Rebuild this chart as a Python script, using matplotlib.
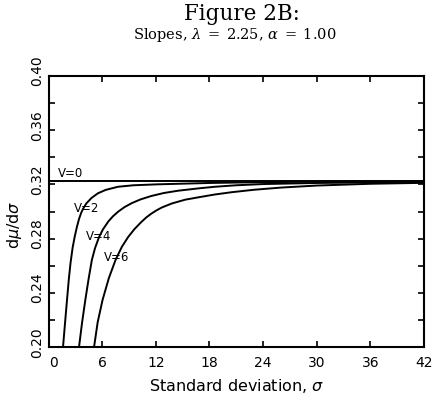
import matplotlib.pyplot as plt
import matplotlib.transforms as mtransforms
from matplotlib.ticker import MultipleLocator

# slope curves read as (sigma, dmu/dsigma) pairs
sigma_v0 = [0.0, 42.0]
slope_v0 = [0.3228, 0.3228]

sigma_v2 = [1.62, 1.85, 2.07, 2.27, 2.46, 2.70, 2.93, 3.17, 3.41, 3.65, 3.86, 4.23, 4.80,
            5.53, 6.40, 7.77, 9.50, 12.2, 18.0, 24.0, 30.0, 42.0]
slope_v2 = [0.200, 0.218, 0.235, 0.250, 0.262, 0.2735, 0.2815, 0.2885, 0.2945, 0.2990,
            0.3020, 0.3060, 0.3100, 0.3135, 0.3160, 0.3183, 0.3194, 0.3201, 0.3211, 0.3217,
            0.3220, 0.3223]

sigma_v4 = [3.41, 3.75, 4.12, 4.50, 4.85, 5.20, 5.65, 6.10, 6.69, 7.20, 7.80, 8.50, 9.30,
            10.3, 11.5, 12.9, 14.5, 16.9, 18.6, 21.0, 24.0, 30.0, 36.0, 42.0]
slope_v4 = [0.200, 0.218, 0.235, 0.251, 0.2644, 0.2730, 0.2812, 0.2870, 0.2927, 0.2965,
            0.3000, 0.3033, 0.3062, 0.3090, 0.3115, 0.3137, 0.3154, 0.3172, 0.3183, 0.3194,
            0.3203, 0.3211, 0.3215, 0.3218]

sigma_v6 = [5.09, 5.50, 6.05, 6.75, 7.50, 8.20, 8.90, 9.60, 10.3, 10.9, 11.5, 12.1, 12.7,
            13.8, 15.3, 17.0, 18.6, 20.5, 23.0, 26.0, 30.0, 36.0, 42.0]
slope_v6 = [0.200, 0.2185, 0.235, 0.251, 0.2644, 0.2740, 0.2812, 0.2870, 0.2918, 0.2955,
            0.2985, 0.3010, 0.3031, 0.3060, 0.3088, 0.3108, 0.3126, 0.3143, 0.3161, 0.3177,
            0.3192, 0.3205, 0.3212]

curve_labels = ['V=0', 'V=2', 'V=4', 'V=6']
label_pos = [(1.1, 0.3278), (4.3, 0.3025), (5.65, 0.2817), (7.6, 0.266)]

x_ticks = [0, 6, 12, 18, 24, 30, 36, 42]
y_ticks = [0.20, 0.24, 0.28, 0.32, 0.36, 0.40]

fig = plt.figure(figsize=(4.39, 3.97), dpi=100)
ax = fig.add_axes([0.1105, 0.1252, 0.8553, 0.6836])

for xs, ys in [(sigma_v0, slope_v0), (sigma_v2, slope_v2),
               (sigma_v4, slope_v4), (sigma_v6, slope_v6)]:
    ax.plot(xs, ys, color='black', lw=1.4, solid_joinstyle='round')

for text, (x, y) in zip(curve_labels, label_pos):
    ha = 'left' if text == 'V=0' else 'center'
    ax.text(x, y, text, fontsize=8.5, ha=ha, va='center', color='black')

ax.set_xlim(0, 42)
ax.set_ylim(0.20, 0.40)
ax.set_xticks(x_ticks)
ax.set_xticklabels([str(t) for t in x_ticks])
ax.set_yticks(y_ticks)
ax.set_yticklabels(['%.2f' % t for t in y_ticks], rotation=90, va='center')
ax.yaxis.set_minor_locator(MultipleLocator(0.02))

ax.tick_params(which='both', direction='in', top=True, right=True,
               width=1.2, length=4, labelsize=10)
ax.tick_params(axis='x', pad=6)
ax.tick_params(axis='y', pad=3)
for sp in ax.spines.values():
    sp.set_linewidth(1.5)

# nudge tick labels the way the plotter placed them
up = mtransforms.ScaledTranslation(0, 5 / 100, fig.dpi_scale_trans)
for lab in ax.get_yticklabels():
    lab.set_transform(lab.get_transform() + up)
first = ax.get_xticklabels()[0]
first.set_transform(first.get_transform() + mtransforms.ScaledTranslation(5 / 100, 0, fig.dpi_scale_trans))

ax.set_xlabel('Standard deviation, $\\sigma$', fontsize=11.5, labelpad=5)
ax.set_ylabel('d$\\mu$/d$\\sigma$', fontsize=11.5)
ax.yaxis.set_label_coords(-0.065, 0.45)

fig.text(0.551, 0.965, 'Figure 2B:', family='DejaVu Serif', fontsize=15.5,
         ha='center', va='center')
fig.text(0.534, 0.912, 'Slopes, $\\lambda\\;=\\;2.25$, $\\alpha\\;=\\;1.00$',
         family='DejaVu Serif', math_fontfamily='dejavuserif', fontsize=10.5,
         ha='center', va='center')

fig.savefig('out.png', dpi=100)
